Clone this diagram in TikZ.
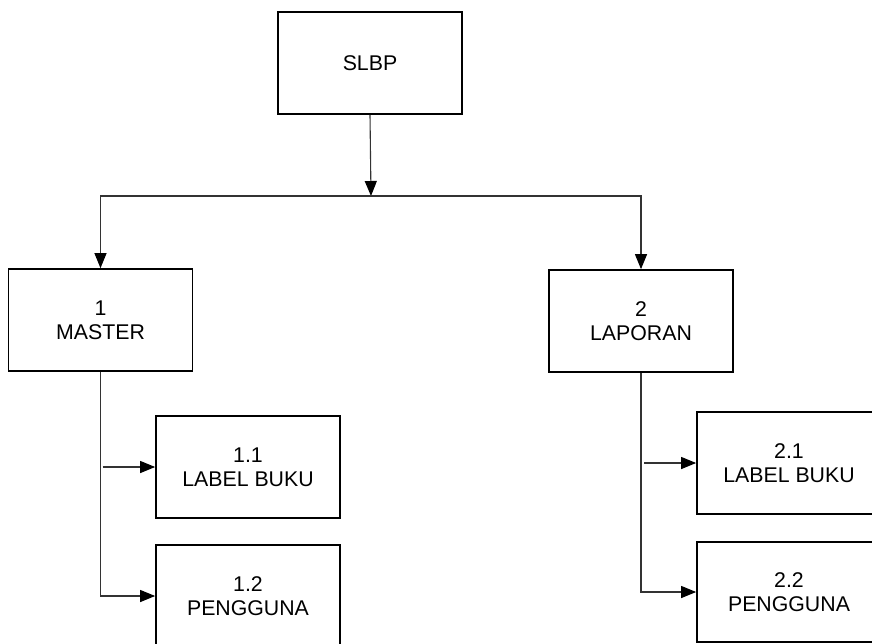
\documentclass[tikz,border=0pt]{standalone}
\usepackage{fontspec}
\setmainfont{Liberation Sans}
\usepackage{xcolor}
\usepackage{tikz}
\usetikzlibrary{arrows.meta, positioning}

\tikzset{
    kotak/.style={draw=black, line width=1.7pt, rectangle, minimum width=184pt,
        minimum height=102pt, align=center, inner sep=0pt,
        font=\fontsize{21.3}{24}\selectfont},
    garis/.style={draw=black!80, line width=1.1pt}
}

\begin{document}
\begin{tikzpicture}[x=1pt, y=-1pt, >={Triangle[length=15pt, width=12pt, color=black]}]
    % Batas gambar sesuai ukuran asli
    \useasboundingbox (0,0) rectangle (872,643);
    \clip (0,0) rectangle (872,643);

    % Kotak-kotak pada hirarki
    \node[kotak] (slbp) at (370,63) {SLBP};
    \node[kotak] (master) at (100.5,320) {1\\MASTER};
    \node[kotak] (laporan) at (641,321) {2\\LAPORAN};
    \node[kotak] (label1) at (248,467) {1.1\\LABEL BUKU};
    \node[kotak] (pengguna1) at (248,596) {1.2\\PENGGUNA};
    \node[kotak] (label2) at (789,463) {2.1\\LABEL BUKU};
    \node[kotak, minimum height=100pt] (pengguna2) at (789,592) {2.2\\PENGGUNA};

    % Titik percabangan di bawah SLBP
    \coordinate (cabang) at (371,196);

    % Garis penghubung tingkat pertama
    \draw[garis, ->] (slbp.south) -- (cabang);
    \draw[garis, ->] (cabang) -| (master.north);
    \draw[garis, ->] (cabang) -| (laporan.north);

    % Cabang dari MASTER
    \draw[garis, ->] (master.south) |- (pengguna1.west);
    \draw[garis, ->] ([xshift=2pt]master.south |- label1.west) -- (label1.west);

    % Cabang dari LAPORAN
    \draw[garis, ->] (laporan.south) |- (pengguna2.west);
    \draw[garis, ->] ([xshift=3pt]laporan.south |- label2.west) -- (label2.west);
\end{tikzpicture}
\end{document}
